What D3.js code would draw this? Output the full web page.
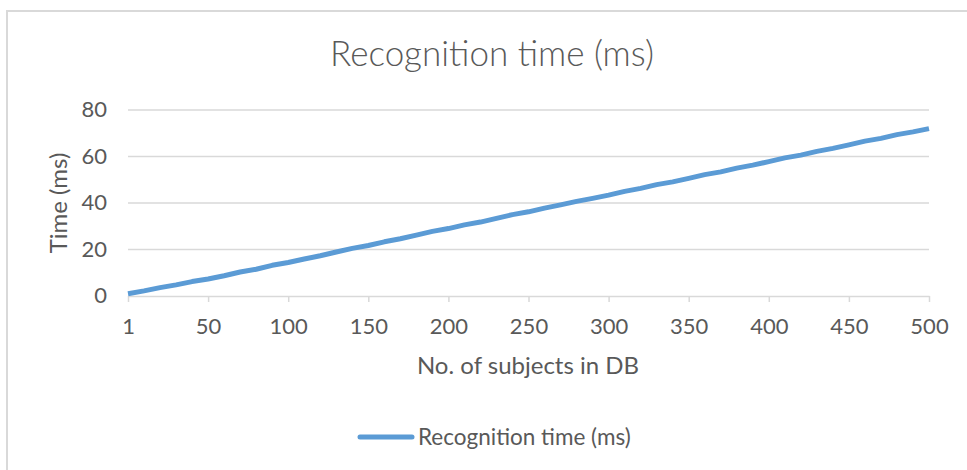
<!DOCTYPE html>
<meta charset="utf-8">
<head>
    <title>Recognition time (ms)</title>
    <script src="https://d3js.org/d3.v7.min.js"></script>
    <style>
        body { margin: 0; background: #fff; }
        text { font-family: Lato, "Open Sans", sans-serif; fill: #595959; }
    </style>
</head>
<body>
<div id="chart"></div>
<script>
    // data
    const subjects = [1, 10, 20, 30, 40, 50, 60, 70, 80, 90, 100, 110, 120, 130, 140, 150, 160, 170, 180, 190,
        200, 210, 220, 230, 240, 250, 260, 270, 280, 290, 300, 310, 320, 330, 340, 350, 360, 370, 380, 390,
        400, 410, 420, 430, 440, 450, 460, 470, 480, 490, 500];
    const timeMs = [1.0, 2.2, 3.6, 4.8, 6.2, 7.3, 8.7, 10.3, 11.5, 13.2, 14.4, 15.9, 17.3, 18.9, 20.5, 21.7, 23.3, 24.6, 26.2, 27.8,
        29.0, 30.6, 31.8, 33.4, 35.0, 36.2, 37.8, 39.2, 40.7, 42.0, 43.4, 45.0, 46.3, 47.9, 49.1, 50.6, 52.2, 53.4, 55.0, 56.3,
        57.8, 59.4, 60.6, 62.2, 63.5, 65.0, 66.6, 67.8, 69.4, 70.6, 72.0];
    const xTickLabels = [1, 50, 100, 150, 200, 250, 300, 350, 400, 450, 500];
    const yTicks = [0, 20, 40, 60, 80];

    const width = 967, height = 470;
    const margin = {top: 110, right: 38, bottom: 174, left: 128};

    const svg = d3.select("#chart").append("svg")
        .attr("width", width)
        .attr("height", height);

    // chart frame
    svg.append("rect")
        .attr("x", 7).attr("y", 11)
        .attr("width", width + 10).attr("height", height + 10)
        .attr("fill", "none")
        .attr("stroke", "#d9d9d9")
        .attr("stroke-width", 2);

    const x = d3.scalePoint()
        .domain(subjects)
        .range([margin.left, width - margin.right]);

    const y = d3.scaleLinear()
        .domain([0, 80])
        .range([height - margin.bottom, margin.top]);

    // gridlines
    svg.append("g")
        .selectAll("line")
        .data(yTicks.filter(d => d > 0))
        .enter().append("line")
        .attr("x1", margin.left).attr("x2", width - margin.right)
        .attr("y1", d => y(d)).attr("y2", d => y(d))
        .attr("stroke", "#d9d9d9")
        .attr("stroke-width", 1.5);

    // y axis labels
    svg.append("g")
        .selectAll("text")
        .data(yTicks)
        .enter().append("text")
        .attr("x", 107)
        .attr("y", d => y(d) + 7)
        .attr("text-anchor", "end")
        .style("font-size", "22px")
        .text(d => d);

    // x axis
    const xAxis = d3.axisBottom(x)
        .tickValues(xTickLabels)
        .tickSize(6)
        .tickPadding(16)
        .tickSizeOuter(0);

    const gx = svg.append("g")
        .attr("transform", "translate(0," + y(0) + ")")
        .call(xAxis);
    gx.select(".domain").attr("stroke", "#d9d9d9").attr("stroke-width", 1.5);
    gx.selectAll(".tick line").attr("stroke", "#d9d9d9").attr("stroke-width", 1.5);
    gx.selectAll(".tick text")
        .style("font-size", "22px")
        .style("font-family", "Lato, 'Open Sans', sans-serif")
        .attr("fill", "#595959");

    // series line
    const line = d3.line()
        .x((d, i) => x(subjects[i]))
        .y(d => y(d));

    svg.append("path")
        .datum(timeMs)
        .attr("d", line)
        .attr("fill", "none")
        .attr("stroke", "#5b9bd5")
        .attr("stroke-width", 5)
        .attr("stroke-linejoin", "round");

    // titles
    svg.append("text")
        .attr("x", 492).attr("y", 66)
        .attr("text-anchor", "middle")
        .style("font-size", "35px")
        .style("font-weight", 300)
        .text("Recognition time (ms)");

    svg.append("text")
        .attr("transform", "translate(67," + y(40) + ") rotate(-90)")
        .attr("text-anchor", "middle")
        .style("font-size", "24px")
        .text("Time (ms)");

    svg.append("text")
        .attr("x", 528).attr("y", 374)
        .attr("text-anchor", "middle")
        .style("font-size", "24px")
        .text("No. of subjects in DB");

    // legend
    const legend = svg.append("g");
    legend.append("line")
        .attr("x1", 360).attr("x2", 412)
        .attr("y1", 437).attr("y2", 437)
        .attr("stroke", "#5b9bd5")
        .attr("stroke-width", 5)
        .attr("stroke-linecap", "round");
    legend.append("text")
        .attr("x", 418).attr("y", 445)
        .style("font-size", "22.5px")
        .text("Recognition time (ms)");
</script>
</body>
